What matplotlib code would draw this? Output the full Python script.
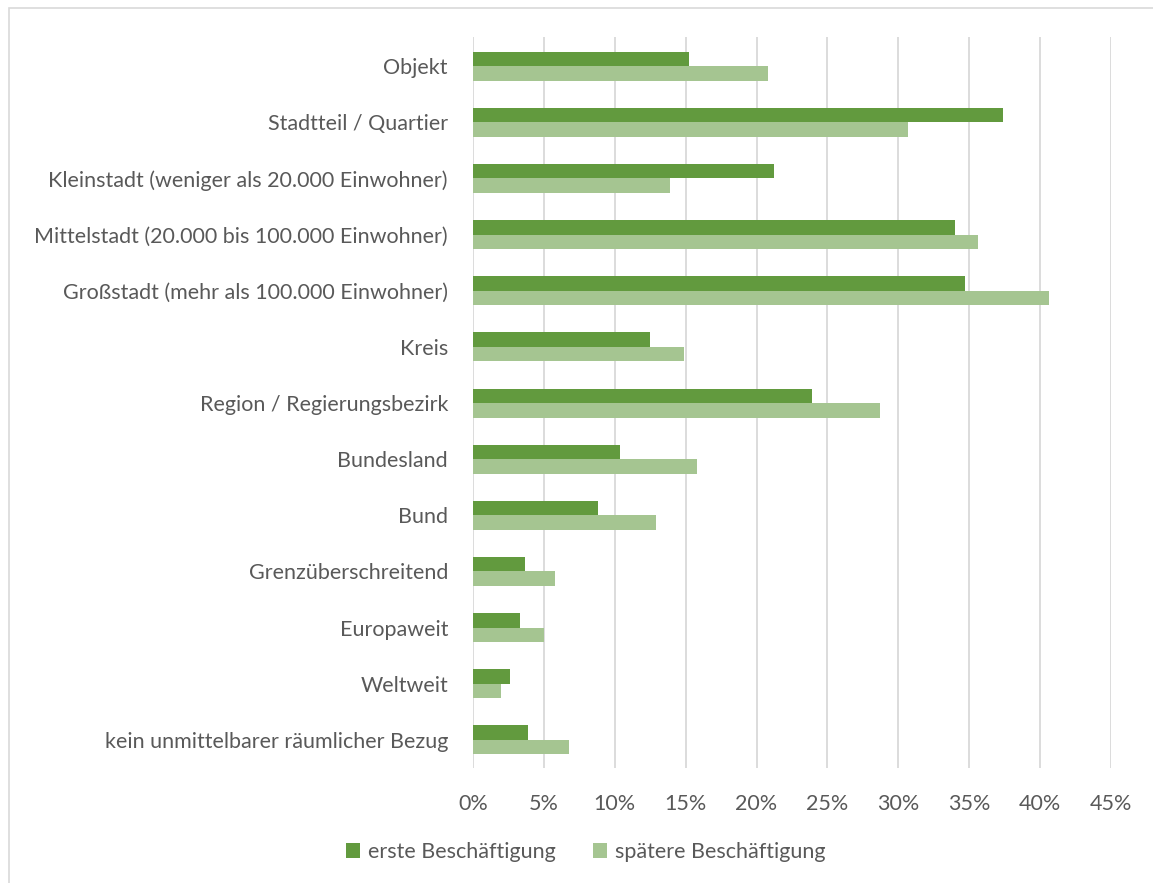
import numpy as np
import matplotlib.pyplot as plt
from matplotlib.patches import Rectangle
from matplotlib.ticker import FuncFormatter

# Räumlicher Bezug der Tätigkeit (Anteil in %)
kategorien = [
    'Objekt',
    'Stadtteil / Quartier',
    'Kleinstadt (weniger als 20.000 Einwohner)',
    'Mittelstadt (20.000 bis 100.000 Einwohner)',
    'Großstadt (mehr als 100.000 Einwohner)',
    'Kreis',
    'Region / Regierungsbezirk',
    'Bundesland',
    'Bund',
    'Grenzüberschreitend',
    'Europaweit',
    'Weltweit',
    'kein unmittelbarer räumlicher Bezug',
]
erste = [15.2, 37.4, 21.2, 34.0, 34.7, 12.5, 23.9, 10.4, 8.8, 3.7, 3.3, 2.6, 3.9]
spaetere = [20.8, 30.7, 13.9, 35.6, 40.6, 14.9, 28.7, 15.8, 12.9, 5.8, 5.0, 2.0, 6.8]
x_ticks = [0, 5, 10, 15, 20, 25, 30, 35, 40, 45]

DUNKEL = '#629A3E'
HELL = '#A5C591'
TEXT = '#595959'
GRID = '#D9D9D9'

plt.rcParams['font.family'] = ['Lato', 'DejaVu Sans']
FS = 15.5

fig = plt.figure(figsize=(11.53, 8.83), dpi=100)
W, H = 1153, 883
ax = fig.add_axes([473 / W, 1 - 768 / H, (1111 - 473) / W, (768 - 37) / H])

# Rahmen um das Diagramm (rechts/unten abgeschnitten)
fig.patches.append(Rectangle((8.5 / W, -0.1), 1.2, 1 - 8.5 / H + 0.1,
                             transform=fig.transFigure, fill=False,
                             edgecolor=GRID, linewidth=1.2))

y = np.arange(len(kategorien))
h = 0.258
ax.barh(y - h / 2, erste, height=h, color=DUNKEL, label='erste Beschäftigung', zorder=3)
ax.barh(y + h / 2, spaetere, height=h, color=HELL, label='spätere Beschäftigung', zorder=3)

ax.set_ylim(12.5, -0.52)
ax.set_xlim(0, 45)
ax.set_yticks(y)
ax.set_yticklabels(kategorien, fontsize=FS, color=TEXT)
ax.set_xticks(x_ticks)
ax.xaxis.set_major_formatter(FuncFormatter(lambda v, _: f'{v:.0f}%'))
ax.tick_params(axis='x', labelsize=FS, labelcolor=TEXT, length=0, pad=19)
ax.tick_params(axis='y', length=0, pad=18)

ax.grid(axis='x', color=GRID, linewidth=1.3, zorder=0)
for s in ax.spines.values():
    s.set_visible(False)

fig.legend(loc='center', bbox_to_anchor=(0.508, 1 - 852 / H), ncol=2, frameon=False,
           fontsize=FS, labelcolor=TEXT, handlelength=0.65, handleheight=0.65,
           handletextpad=0.4, columnspacing=1.7)

fig.savefig('out.png', dpi=100)
